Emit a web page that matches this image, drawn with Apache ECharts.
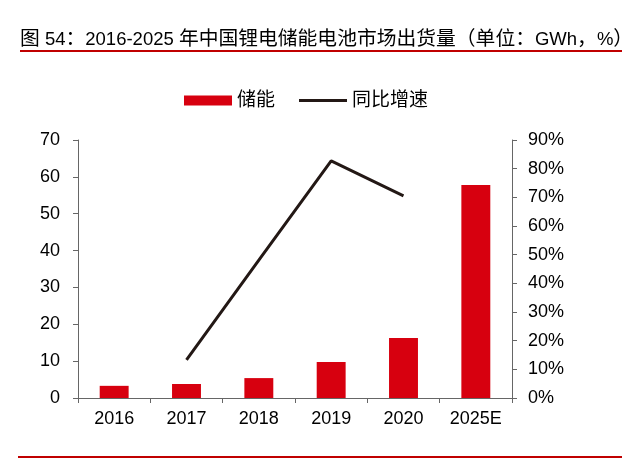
<!DOCTYPE html>
<html><head><meta charset="utf-8">
<script src="https://cdn.jsdelivr.net/npm/echarts@6/dist/echarts.min.js"></script>
<style>html,body{margin:0;padding:0;background:#fff}#c{width:640px;height:461px}</style>
</head><body><div id="c"></div>
<script>
const categories = ['2016','2017','2018','2019','2020','2025E'];
const storage = [3.3, 3.8, 5.4, 9.8, 16.3, 57.8];
const growth = [null, 13.3, 48.1, 82.7, 70.5, null];
const leftTicks = [0,10,20,30,40,50,60,70];
const rightTicks = [0,10,20,30,40,50,60,70,80,90];

const chart = echarts.init(document.getElementById('c'), null, {renderer:'canvas'});
const font = 'Liberation Sans, Arial, Noto Sans CJK SC, sans-serif';
chart.setOption({
  animation:false,
  textStyle:{fontFamily:font},
  graphic:[
    {type:'text', left:20, top:30, style:{
      text:'{c|图}{l| 54}{c|：}{l|2016-2025 }{c|年中国锂电储能电池市场出货量（单位：}{l|GWh}{c|，}{l|%}{c|）}',
      rich:{
        c:{fontSize:19.8, fontFamily:font, fill:'#000'},
        l:{fontSize:18.5, fontFamily:font, fill:'#000'}
      }, fontSize:18, fontFamily:font, fill:'#000'}},
    {type:'rect', shape:{x:20,y:50,width:602,height:2}, style:{fill:'#c00000'}},
    {type:'rect', shape:{x:18,y:456,width:604,height:2}, style:{fill:'#c00000'}}
  ],
  legend:{
    top:86, left:179, itemGap:24, itemWidth:48, itemHeight:10, itemSpacing:6,
    textStyle:{fontSize:19, color:'#000', fontFamily:font},
    data:[{name:'储能', icon:'rect'},{name:'同比增速', icon:'path://M0 0 H48 V3 H0 Z', itemStyle:{color:'#231815'}}]
  },
  grid:{left:78, right:128, top:140, bottom:63, containLabel:false},
  xAxis:{
    type:'category', data:categories,
    axisLine:{lineStyle:{color:'#666', width:1}},
    axisTick:{show:true, alignWithLabel:false, length:5, lineStyle:{color:'#666'}},
    axisLabel:{fontSize:18, color:'#000', margin:12}
  },
  yAxis:[
    {type:'value', min:leftTicks[0], max:leftTicks[leftTicks.length-1], interval:10,
     axisLine:{show:true, lineStyle:{color:'#666'}},
     axisTick:{show:true, length:5, lineStyle:{color:'#666'}},
     splitLine:{show:false},
     axisLabel:{fontSize:18, color:'#000', margin:18}},
    {type:'value', min:rightTicks[0], max:rightTicks[rightTicks.length-1], interval:10,
     axisLine:{show:true, lineStyle:{color:'#666'}},
     axisTick:{show:true, length:5, lineStyle:{color:'#666'}},
     splitLine:{show:false},
     axisLabel:{fontSize:18, color:'#000', margin:16, formatter:'{value}%'}}
  ],
  series:[
    {name:'储能', type:'bar', data:storage, barWidth:'40%', itemStyle:{color:'#d7000f'}},
    {name:'同比增速', type:'line', yAxisIndex:1, data:growth, symbol:'none', connectNulls:false,
     lineStyle:{color:'#231815', width:3}, itemStyle:{color:'#231815'}}
  ]
});
</script></body></html>
